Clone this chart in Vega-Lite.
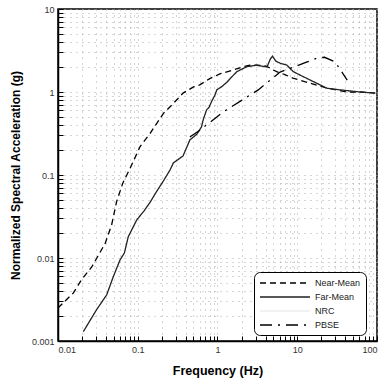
{
  "$schema": "https://vega.github.io/schema/vega-lite/v6.json",
  "width": 319,
  "height": 332,
  "autosize": {"type": "none"},
  "padding": {"left": 58, "top": 9, "right": 5, "bottom": 44},
  "background": "white",
  "config": {
    "view": {"stroke": "black", "strokeWidth": 1.5},
    "font": "Liberation Sans"
  },
  "data": {"values": [
    {"s":"Near-Mean","f":0.01,"a":0.0025},
    {"s":"Near-Mean","f":0.0156,"a":0.0038},
    {"s":"Near-Mean","f":0.0198,"a":0.0055},
    {"s":"Near-Mean","f":0.0265,"a":0.0078},
    {"s":"Near-Mean","f":0.039,"a":0.0150},
    {"s":"Near-Mean","f":0.047,"a":0.025},
    {"s":"Near-Mean","f":0.0544,"a":0.048},
    {"s":"Near-Mean","f":0.065,"a":0.08},
    {"s":"Near-Mean","f":0.08,"a":0.12},
    {"s":"Near-Mean","f":0.107,"a":0.22},
    {"s":"Near-Mean","f":0.143,"a":0.318},
    {"s":"Near-Mean","f":0.21,"a":0.553},
    {"s":"Near-Mean","f":0.28,"a":0.73},
    {"s":"Near-Mean","f":0.37,"a":0.97},
    {"s":"Near-Mean","f":0.5,"a":1.15},
    {"s":"Near-Mean","f":0.6,"a":1.22},
    {"s":"Near-Mean","f":0.8,"a":1.45},
    {"s":"Near-Mean","f":1.07,"a":1.65},
    {"s":"Near-Mean","f":1.57,"a":1.84},
    {"s":"Near-Mean","f":2.1,"a":2.02},
    {"s":"Near-Mean","f":2.55,"a":2.1},
    {"s":"Near-Mean","f":3.2,"a":2.1},
    {"s":"Near-Mean","f":4.1,"a":2.05},
    {"s":"Near-Mean","f":5.0,"a":1.84},
    {"s":"Near-Mean","f":5.7,"a":1.74},
    {"s":"Near-Mean","f":7.0,"a":1.62},
    {"s":"Near-Mean","f":8.8,"a":1.47},
    {"s":"Near-Mean","f":14.4,"a":1.28},
    {"s":"Near-Mean","f":23.5,"a":1.12},
    {"s":"Near-Mean","f":42,"a":1.0},
    {"s":"Near-Mean","f":61,"a":1.0},
    {"s":"Near-Mean","f":95,"a":0.97},
    {"s":"Far-Mean","f":0.0208,"a":0.0013},
    {"s":"Far-Mean","f":0.0306,"a":0.0024},
    {"s":"Far-Mean","f":0.0408,"a":0.0036},
    {"s":"Far-Mean","f":0.0495,"a":0.006},
    {"s":"Far-Mean","f":0.06,"a":0.0095},
    {"s":"Far-Mean","f":0.068,"a":0.0115},
    {"s":"Far-Mean","f":0.076,"a":0.018},
    {"s":"Far-Mean","f":0.097,"a":0.0287},
    {"s":"Far-Mean","f":0.12,"a":0.037},
    {"s":"Far-Mean","f":0.143,"a":0.047},
    {"s":"Far-Mean","f":0.17,"a":0.062},
    {"s":"Far-Mean","f":0.21,"a":0.085},
    {"s":"Far-Mean","f":0.254,"a":0.115},
    {"s":"Far-Mean","f":0.28,"a":0.14},
    {"s":"Far-Mean","f":0.31,"a":0.15},
    {"s":"Far-Mean","f":0.37,"a":0.17},
    {"s":"Far-Mean","f":0.45,"a":0.264},
    {"s":"Far-Mean","f":0.55,"a":0.31},
    {"s":"Far-Mean","f":0.63,"a":0.38},
    {"s":"Far-Mean","f":0.66,"a":0.46},
    {"s":"Far-Mean","f":0.73,"a":0.61},
    {"s":"Far-Mean","f":0.78,"a":0.65},
    {"s":"Far-Mean","f":0.85,"a":0.78},
    {"s":"Far-Mean","f":0.93,"a":0.92},
    {"s":"Far-Mean","f":0.98,"a":1.06},
    {"s":"Far-Mean","f":1.13,"a":1.16},
    {"s":"Far-Mean","f":1.3,"a":1.3},
    {"s":"Far-Mean","f":1.44,"a":1.45},
    {"s":"Far-Mean","f":1.75,"a":1.76},
    {"s":"Far-Mean","f":2.34,"a":2.02},
    {"s":"Far-Mean","f":3.1,"a":2.1},
    {"s":"Far-Mean","f":3.6,"a":2.05},
    {"s":"Far-Mean","f":4.17,"a":2.0},
    {"s":"Far-Mean","f":4.6,"a":2.5},
    {"s":"Far-Mean","f":4.9,"a":2.7},
    {"s":"Far-Mean","f":5.4,"a":2.35},
    {"s":"Far-Mean","f":6.1,"a":2.22},
    {"s":"Far-Mean","f":7.4,"a":2.11},
    {"s":"Far-Mean","f":8.9,"a":1.76},
    {"s":"Far-Mean","f":11.9,"a":1.53},
    {"s":"Far-Mean","f":17.7,"a":1.27},
    {"s":"Far-Mean","f":23.5,"a":1.11},
    {"s":"Far-Mean","f":34.8,"a":1.06},
    {"s":"Far-Mean","f":61,"a":1.0},
    {"s":"Far-Mean","f":95,"a":0.97},
    {"s":"PBSE","f":0.45,"a":0.287},
    {"s":"PBSE","f":0.605,"a":0.348},
    {"s":"PBSE","f":1.175,"a":0.574},
    {"s":"PBSE","f":3.24,"a":1.06},
    {"s":"PBSE","f":6.1,"a":1.74},
    {"s":"PBSE","f":13.3,"a":2.3},
    {"s":"PBSE","f":17.8,"a":2.57},
    {"s":"PBSE","f":22,"a":2.62},
    {"s":"PBSE","f":29.9,"a":2.3},
    {"s":"PBSE","f":42.3,"a":1.39}
  ]},
  "mark": {"type": "line", "strokeWidth": 1.3, "clip": true},
  "encoding": {
    "x": {
      "field": "f", "type": "quantitative",
      "scale": {"type": "log", "domain": [0.01, 100]},
      "axis": {
        "title": "Frequency (Hz)",
        "titleFontSize": 12.5, "titleFontWeight": "bold", "titleColor": "black",
        "titleY": 29, "titleBaseline": "middle",
        "format": "~g",
        "labelExpr": "abs(log(datum.value)/LN10 - round(log(datum.value)/LN10)) < 0.001 ? datum.label : ''",
        "labelFontSize": 9, "labelColor": "#333", "labelPadding": 9,
        "domainColor": "black", "domainWidth": 1.5,
        "tickColor": "black", "tickSize": -5, "tickWidth": 1,
        "grid": true, "gridColor": "#aaa", "gridDash": [1, 5], "gridWidth": 1
      }
    },
    "y": {
      "field": "a", "type": "quantitative",
      "scale": {"type": "log", "domain": [0.001, 10]},
      "axis": {
        "title": "Normalized Spectral Acceleration (g)",
        "titleFontSize": 12, "titleFontWeight": "bold", "titleColor": "black",
        "titleX": -43, "titleY": 166, "titleAlign": "center", "titleBaseline": "middle", "titleAngle": -90,
        "format": "~g",
        "labelExpr": "abs(log(datum.value)/LN10 - round(log(datum.value)/LN10)) < 0.001 ? datum.label : ''",
        "labelFontSize": 9, "labelColor": "#333", "labelPadding": 9,
        "domainColor": "black", "domainWidth": 1.5,
        "tickColor": "black", "tickSize": -5, "tickWidth": 1,
        "grid": true, "gridColor": "#aaa", "gridDash": [1, 5], "gridWidth": 1
      }
    },
    "color": {
      "field": "s", "type": "nominal",
      "scale": {"domain": ["Near-Mean", "Far-Mean", "NRC", "PBSE"], "range": ["black", "#222", "#eeeeee", "black"]},
      "legend": {
        "title": null, "orient": "none", "legendX": 196, "legendY": 263,
        "fillColor": "white", "strokeColor": "black", "cornerRadius": 6, "padding": 5,
        "symbolType": "M-1,0H9", "symbolSize": 100, "symbolStrokeWidth": 1.5, "symbolFillColor": "transparent",
        "labelFontSize": 9, "labelColor": "#222", "rowPadding": 3, "labelOffset": 44
      }
    },
    "strokeDash": {
      "field": "s", "type": "nominal",
      "scale": {"domain": ["Near-Mean", "Far-Mean", "NRC", "PBSE"], "range": [[6, 4], [1, 0], [1, 0], [12, 6, 2, 6]]},
      "legend": null
    }
  }
}
